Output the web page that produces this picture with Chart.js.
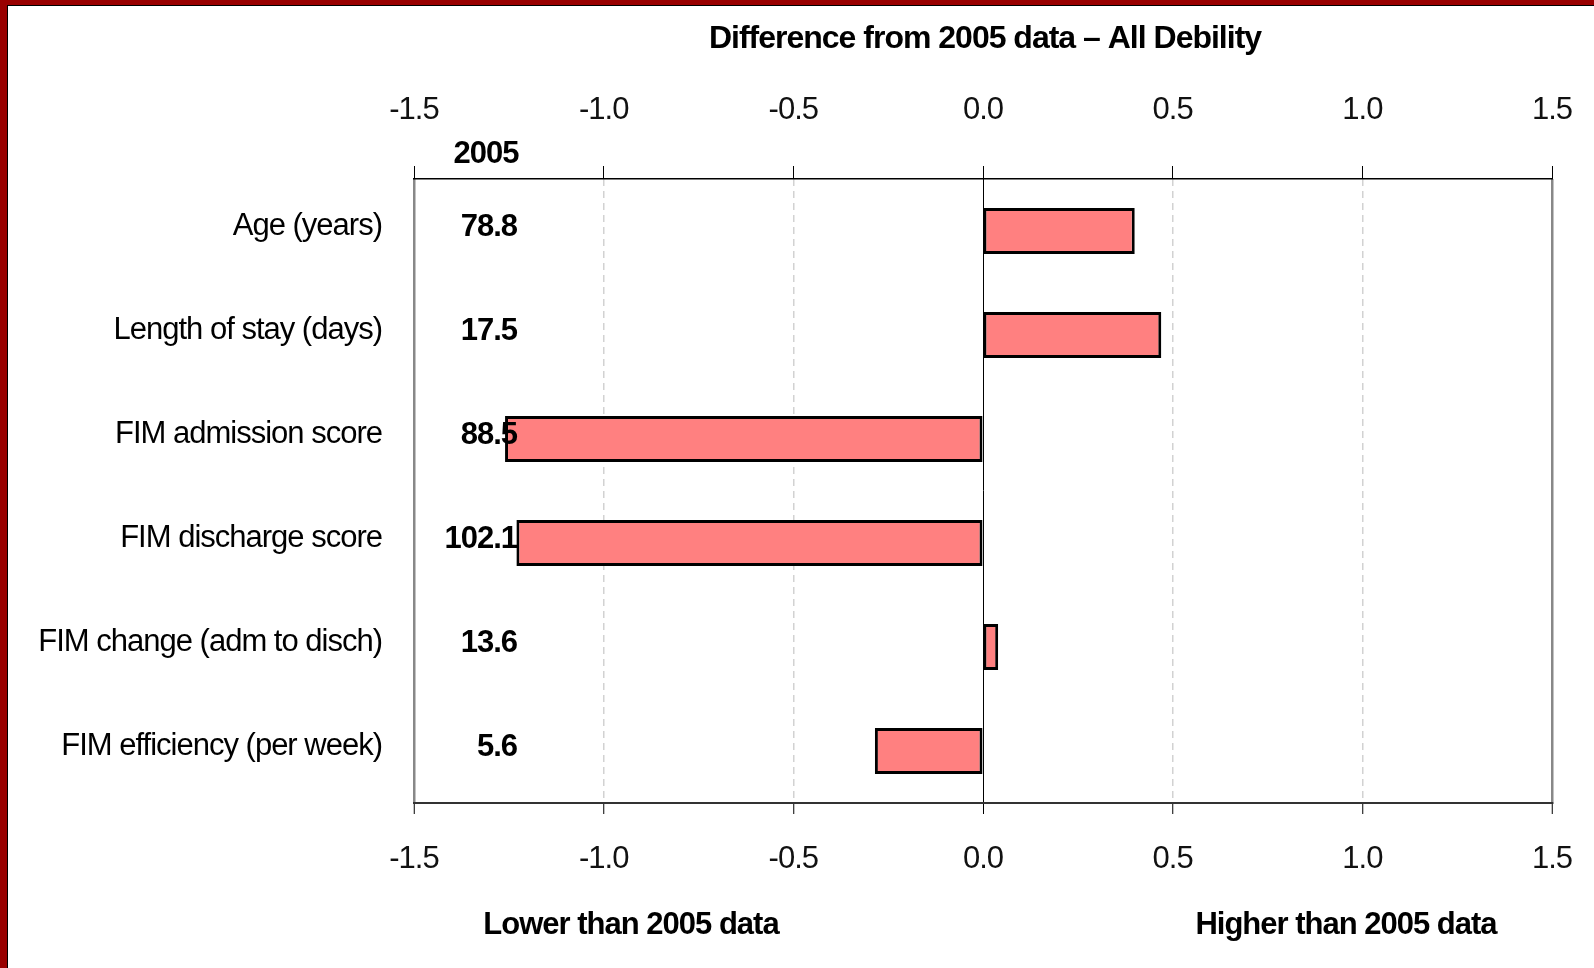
<!DOCTYPE html>
<html lang="en">
<head>
    <meta charset="UTF-8">
    <title>Difference from 2005 data – All Debility</title>
    <script src="https://cdn.jsdelivr.net/npm/chart.js"></script>
    <style>
        html, body { margin: 0; padding: 0; background: #fff; }
        canvas { display: block; }
    </style>
</head>
<body>
    <canvas id="diffChart" width="1594" height="968"></canvas>
    <script>
        // measures shown down the left side
        const measures = [
            'Age (years)',
            'Length of stay (days)',
            'FIM admission score',
            'FIM discharge score',
            'FIM change (adm to disch)',
            'FIM efficiency (per week)'
        ];
        // 2005 reference values printed next to each measure
        const values2005 = [78.8, 17.5, 88.5, 102.1, 13.6, 5.6];
        // difference from the 2005 figures
        const differences = [0.40, 0.47, -1.26, -1.23, 0.04, -0.285];
        const axisMin = -1.5;
        const axisMax = 1.5;
        const axisStep = 0.5;

        const FONT = "'Liberation Sans', Arial, sans-serif";
        Chart.defaults.font.family = FONT;
        Chart.defaults.color = '#000';

        // tighter letter spacing on every piece of text
        const tightText = {
            id: 'tightText',
            beforeDraw(chart) {
                chart.ctx.letterSpacing = '-1px';
            }
        };

        const extraText = {
            id: 'extraText',
            afterDraw(chart) {
                const ctx = chart.ctx;
                const yScale = chart.scales.y;
                ctx.save();
                ctx.letterSpacing = '-1px';
                ctx.fillStyle = '#000';
                ctx.textBaseline = 'middle';
                ctx.textAlign = 'center';

                ctx.font = 'bold 32px ' + FONT;
                ctx.fillText('Difference from 2005 data – All Debility', 985, 39);

                ctx.font = 'bold 31px ' + FONT;
                ctx.fillText('2005', 486, 154);
                ctx.fillText('Lower than 2005 data', 631, 925);
                ctx.fillText('Higher than 2005 data', 1346, 925);

                ctx.textAlign = 'right';
                values2005.forEach((v, i) => {
                    ctx.fillText(v.toFixed(1), 517, yScale.getPixelForValue(i) - 4);
                });

                // frame along the left and top edges
                ctx.fillStyle = '#990000';
                ctx.fillRect(0, 0, 7, chart.height);
                ctx.fillRect(0, 0, chart.width, 5);
                ctx.fillStyle = '#000';
                ctx.fillRect(7, 5, 1, chart.height - 5);
                ctx.fillRect(7, 5, chart.width - 7, 1);
                ctx.restore();
            }
        };

        const fmt = v => Number(v).toFixed(1);

        // fixed axis sizes so the plot area sits where it should
        const fixHeight = h => s => {
            s.height = h;
            s.paddingLeft = 0;
            s.paddingRight = 0;
        };

        new Chart(document.getElementById('diffChart'), {
            type: 'bar',
            data: {
                labels: measures,
                datasets: [{
                    data: differences,
                    backgroundColor: '#FF8080',
                    borderColor: '#000',
                    borderWidth: 3,
                    borderSkipped: false,
                    barPercentage: 0.44,
                    categoryPercentage: 1,
                    xAxisID: 'x'
                }]
            },
            options: {
                indexAxis: 'y',
                responsive: false,
                animation: false,
                layout: { padding: { top: 0, right: 42, bottom: 0, left: 0 } },
                plugins: {
                    legend: { display: false },
                    tooltip: { enabled: false }
                },
                scales: {
                    x: {
                        position: 'bottom',
                        min: axisMin,
                        max: axisMax,
                        afterFit: fixHeight(165),
                        ticks: {
                            stepSize: axisStep,
                            callback: fmt,
                            font: { size: 31 },
                            color: '#111',
                            padding: 27,
                            maxRotation: 0
                        },
                        grid: {
                            color: c => {
                                const v = c.tick ? c.tick.value : null;
                                if (v === axisMin || v === axisMax) return '#888';
                                if (v === 0) return '#000';
                                return '#d2d2d2';
                            },
                            lineWidth: c => {
                                const v = c.tick ? c.tick.value : null;
                                if (v === axisMin || v === axisMax) return 2.5;
                                if (v === 0) return 1;
                                return 1.5;
                            },
                            tickColor: '#000',
                            tickLength: 11,
                            tickWidth: 1
                        },
                        border: {
                            color: '#333',
                            width: 2,
                            dash: c => {
                                const v = c.tick ? c.tick.value : null;
                                if (v === null || v === 0 || v === axisMin || v === axisMax) return [];
                                return [7, 5];
                            }
                        }
                    },
                    x2: {
                        position: 'top',
                        type: 'linear',
                        min: axisMin,
                        max: axisMax,
                        afterFit: fixHeight(179),
                        ticks: {
                            stepSize: axisStep,
                            callback: fmt,
                            font: { size: 31 },
                            color: '#111',
                            padding: 37,
                            maxRotation: 0
                        },
                        grid: {
                            drawOnChartArea: false,
                            drawTicks: true,
                            tickColor: '#000',
                            tickLength: 13,
                            tickWidth: 1
                        },
                        border: { color: '#000', width: 1.5 }
                    },
                    y: {
                        afterFit: s => { s.width = 414; },
                        ticks: {
                            font: { size: 31 },
                            color: '#000',
                            padding: 32,
                            labelOffset: -5
                        },
                        grid: { display: false, drawTicks: false },
                        border: { display: false }
                    }
                }
            },
            plugins: [tightText, extraText]
        });
    </script>
</body>
</html>
